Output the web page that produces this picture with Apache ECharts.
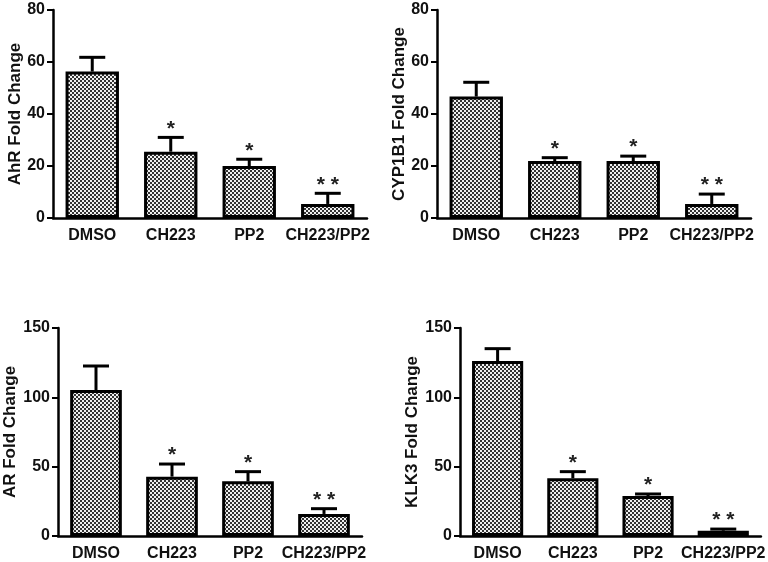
<!DOCTYPE html>
<html>
<head>
<meta charset="utf-8">
<script src="https://cdn.jsdelivr.net/npm/echarts@6/dist/echarts.min.js"></script>
<style>html,body{margin:0;padding:0;background:#fff;}#c{width:768px;height:562px;}</style>
</head>
<body>
<div id="c"></div>
<script>
var categories = ['DMSO', 'CH223', 'PP2', 'CH223/PP2'];
var sigLabels = ['', '*', '*', '* *'];

var ahrMean = [56.3, 25.5, 20.0, 5.4];
var ahrTop = [61.8, 31.0, 22.6, 9.5];

var cypMean = [46.7, 21.9, 21.9, 5.4];
var cypTop = [52.2, 23.2, 23.8, 9.2];

var arMean = [105.3, 42.8, 39.4, 15.9];
var arTop = [122.6, 51.9, 46.4, 19.7];

var klkMean = [126.2, 41.6, 28.8, 3.8];
var klkTop = [135.1, 46.4, 30.3, 5.0];

var topTicks = [0, 20, 40, 60, 80];
var bottomTicks = [0, 50, 100, 150];

var panels = [
  {name: 'AhR Fold Change', mean: ahrMean, top: ahrTop, max: 80, interval: 20, grid: {left: 53, top: 10, width: 314, height: 208}, gap: 29},
  {name: 'CYP1B1 Fold Change', mean: cypMean, top: cypTop, max: 80, interval: 20, grid: {left: 437, top: 10, width: 314, height: 208}, gap: 29},
  {name: 'AR Fold Change', mean: arMean, top: arTop, max: 150, interval: 50, grid: {left: 58, top: 328, width: 304, height: 208}, gap: 39},
  {name: 'KLK3 Fold Change', mean: klkMean, top: klkTop, max: 150, interval: 50, grid: {left: 460, top: 328, width: 305, height: 208}, gap: 39}
];

// checker pattern
var pc = document.createElement('canvas');
pc.width = 4; pc.height = 4;
var pctx = pc.getContext('2d');
pctx.fillStyle = '#f0f0f0'; pctx.fillRect(0, 0, 4, 4);
pctx.fillStyle = '#333333';
pctx.fillRect(0, 0, 2, 2); pctx.fillRect(2, 2, 2, 2);

var FONT = 'Arial, "Liberation Sans", sans-serif';

var grids = [], xAxes = [], yAxes = [], series = [];
panels.forEach(function (p, i) {
  grids.push(Object.assign({containLabel: false}, p.grid));
  xAxes.push({
    type: 'category', gridIndex: i, data: categories,
    axisLine: {lineStyle: {color: '#000', width: 2.5}},
    axisTick: {alignWithLabel: true, length: 6, lineStyle: {width: 2, color: '#000'}},
    axisLabel: {color: '#111', fontSize: 16, fontWeight: 'bold', fontFamily: FONT, margin: 10, interval: 0},
    splitLine: {show: false}
  });
  yAxes.push({
    type: 'value', gridIndex: i, min: 0, max: p.max, interval: p.interval,
    name: p.name, nameLocation: 'middle', nameGap: p.gap, nameMoveOverlap: false,
    nameTextStyle: {color: '#111', fontSize: 17, fontWeight: 'bold', fontFamily: FONT},
    axisLine: {show: true, lineStyle: {color: '#000', width: 2.5}},
    axisTick: {show: true, length: 6, lineStyle: {width: 2, color: '#000'}},
    axisLabel: {color: '#111', fontSize: 16, fontWeight: 'bold', fontFamily: FONT, margin: 8},
    splitLine: {show: false}
  });
  series.push({
    type: 'bar', xAxisIndex: i, yAxisIndex: i, data: p.mean,
    barCategoryGap: '32%',
    itemStyle: {color: {image: pc, repeat: 'repeat'}, borderColor: '#000', borderWidth: 3},
    z: 2
  });
  var errData = p.mean.map(function (m, k) { return [k, m, p.top[k], sigLabels[k]]; });
  series.push({
    type: 'custom', xAxisIndex: i, yAxisIndex: i, data: errData, z: 3,
    encode: {x: 0, y: [1, 2]},
    renderItem: function (params, api) {
      var x = api.value(0);
      var lo = api.coord([x, api.value(1)]);
      var hi = api.coord([x, api.value(2)]);
      var sig = sigLabels[params.dataIndex];
      var hw = 13;
      var children = [
        {type: 'line', shape: {x1: lo[0], y1: lo[1], x2: hi[0], y2: hi[1]}, style: {stroke: '#000', lineWidth: 3}},
        {type: 'line', shape: {x1: hi[0] - hw, y1: hi[1], x2: hi[0] + hw, y2: hi[1]}, style: {stroke: '#000', lineWidth: 3}}
      ];
      if (sig) {
        children.push({type: 'text', style: {text: sig, x: hi[0], y: hi[1] + 2, align: 'center', verticalAlign: 'bottom', fill: '#222', font: 'bold 21px ' + FONT}});
      }
      return {type: 'group', children: children};
    }
  });
});

var chart = echarts.init(document.getElementById('c'), null, {renderer: 'canvas'});
chart.setOption({
  animation: false,
  backgroundColor: '#fff',
  grid: grids, xAxis: xAxes, yAxis: yAxes, series: series
});
</script>
</body>
</html>
